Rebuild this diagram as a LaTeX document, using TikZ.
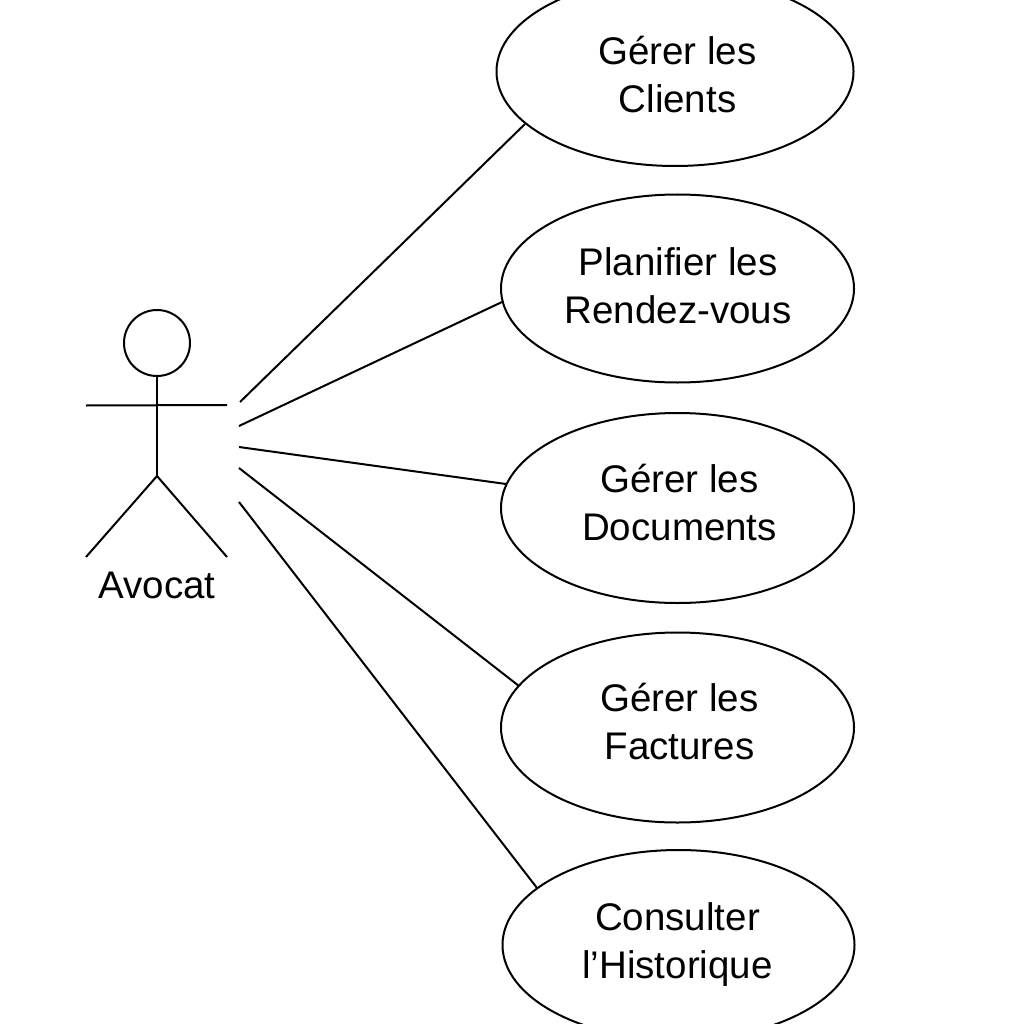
\documentclass[tikz,border=0pt]{standalone}
\usepackage{fontspec}
\setmainfont{Liberation Sans}
\usetikzlibrary{shapes.geometric}
\tikzset{
 uc/.style={draw=black,line width=2pt,ellipse,inner sep=0pt},
 ln/.style={draw=black,line width=2pt},
 lbl/.style={align=center,inner sep=0pt,font=\fontsize{38.5}{48}\selectfont},
}
\begin{document}
\begin{tikzpicture}[x=1pt,y=-1pt]
\useasboundingbox (0,0) rectangle (1024,1024);
\clip (0,0) rectangle (1024,1024);
\fill[white] (0,0) rectangle (1024,1024);
\node[uc,minimum width=357pt,minimum height=189pt] (a) at (675,71.5) {};
\node[uc,minimum width=353pt,minimum height=188pt] (b) at (677.5,288.5) {};
\node[uc,minimum width=353pt,minimum height=190pt] (c) at (677.5,508) {};
\node[uc,minimum width=353pt,minimum height=190pt] (d) at (677.5,727.5) {};
\node[uc,minimum width=352pt,minimum height=190pt] (e) at (678.5,945) {};
\node[lbl] (ta) at (677.5,74.5) {Gérer les\\Clients};
\node[lbl] (tb) at (678,286) {Planifier les\\Rendez-vous};
\node[lbl] (tc) at (679.5,503) {Gérer les\\Documents};
\node[lbl] (td) at (679.5,722) {Gérer les\\Factures};
\node[lbl] (te) at (677.5,944.5) {Consulter\\l’Historique};
\node[draw=black,line width=2pt,circle,minimum size=66pt,inner sep=0pt] (head) at (157,343) {};
\coordinate (hip) at (157,476);
\coordinate (armL) at (86,405.5);
\coordinate (armR) at (227,405);
\coordinate (footL) at (86,557);
\coordinate (footR) at (227,557);
\draw[ln] (head.south) -- (hip);
\draw[ln] (armL) -- (armR);
\draw[ln] (footL) -- (hip) -- (footR);
\node[lbl] (actor) at (157,585) {Avocat};
\coordinate (s1) at (240,402);
\coordinate (s2) at (239,426);
\coordinate (s3) at (239,447);
\coordinate (s4) at (239,468);
\coordinate (s5) at (239,502);
\coordinate (e1) at (525,124);
\coordinate (e2) at (502,302);
\coordinate (e3) at (506,484);
\coordinate (e4) at (519,686);
\coordinate (e5) at (537,888);
\draw[ln] (s1) -- (e1);
\draw[ln] (s2) -- (e2);
\draw[ln] (s3) -- (e3);
\draw[ln] (s4) -- (e4);
\draw[ln] (s5) -- (e5);
\end{tikzpicture}
\end{document}
